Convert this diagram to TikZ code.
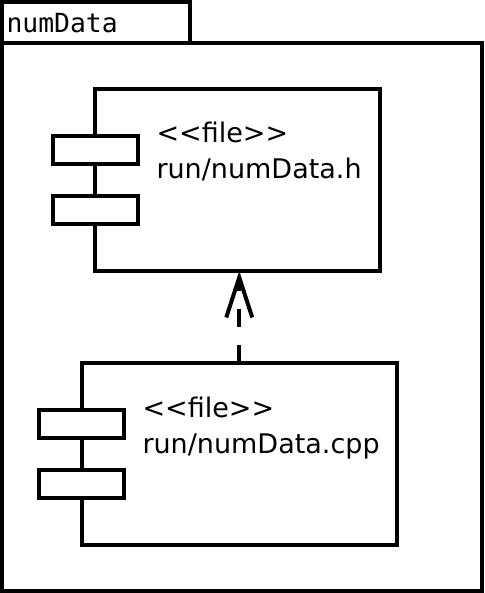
\documentclass[tikz,border=0pt]{standalone}
\usepackage{fontspec}
\setmainfont{DejaVu Sans}
\newfontfamily\monofnt{DejaVu Sans Mono}
\usetikzlibrary{arrows.meta}
\begin{document}
\begin{tikzpicture}[x=1pt,y=-1pt,line width=4pt,
  box/.style={draw,rectangle,inner sep=0pt,outer sep=0pt},
  port/.style={box,fill=white,minimum width=85pt,minimum height=28pt},
  lbl/.style={anchor=base west,inner sep=0pt,font=\fontsize{27}{32}\selectfont}]
\useasboundingbox (0,0) rectangle (484,593);
% package
\node[box,minimum width=188pt,minimum height=41pt] (tab) at (96,22.5) {};
\node[box,minimum width=479.5pt,minimum height=547.5pt] (pkg) at (241.75,316.75) {};
\node[anchor=base west,inner sep=0pt,font=\monofnt\fontsize{26.4}{30}\selectfont] (pkgname) at (4.5,33) {numData};
% top component
\node[box,minimum width=285pt,minimum height=182pt] (hdr) at (237.5,180) {};
\node[port] (hp1) at (95,150) {};
\node[port] (hp2) at (95,210) {};
\node[lbl] (hst) at (154.5,143) {<{}<file>{}>};
\node[lbl] (hnm) at (154.5,179) {run/numData.h};
% bottom component
\node[box,minimum width=315.5pt,minimum height=182pt] (src) at (239.25,454) {};
\node[port] (sp1) at (81,423.5) {};
\node[port] (sp2) at (81,483.5) {};
\node[lbl] (sst) at (140.5,417) {<{}<file>{}>};
\node[lbl] (snm) at (140.5,453) {run/numData.cpp};
% dependency
\draw[dash pattern=on 18pt off 18pt,-{Straight Barb[length=40pt,width=26pt,line width=4pt]}]
  (src.north) -- (src.north |- hdr.south);
\end{tikzpicture}
\end{document}
